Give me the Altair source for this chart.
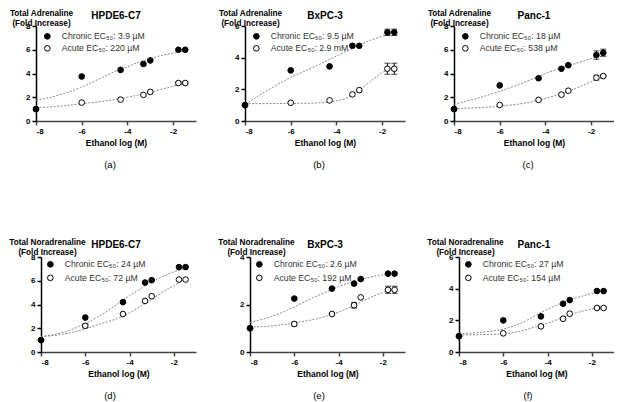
import altair as alt
import pandas as pd

FONT = "Liberation Sans"

# ethanol concentrations (log M) of the measured points
x_conc = [-8, -6, -4.3, -3.3, -3, -1.77, -1.47]
x_fit = [-8, -7, -6, -5, -4.5, -4, -3.5, -3, -2.5, -2, -1.47]

cells = ["HPDE6-C7", "BxPC-3", "Panc-1", "HPDE6-C7", "BxPC-3", "Panc-1"]
measures = ["Total Adrenaline"] * 3 + ["Total Noradrenaline"] * 3
sublabels = ["(a)", "(b)", "(c)", "(d)", "(e)", "(f)"]
ymax = [8, 6, 8, 8, 4, 6]
ec_chronic = ["3.9 µM", "9.5 µM", "18 µM", "24 µM", "2.6 µM", "27 µM"]
ec_acute = ["220 µM", "2.9 mM", "538 µM", "72 µM", "192 µM", "154 µM"]

# (a) HPDE6-C7 adrenaline
a_chronic = [1.0, 3.75, 4.3, 4.8, 5.1, 6.0, 6.0]
a_acute = [1.0, 1.55, 1.8, 2.2, 2.45, 3.2, 3.2]
a_chronic_sem = [0, 0, 0, 0, 0, 0, 0]
a_acute_sem = [0, 0, 0, 0, 0, 0.1, 0.1]
a_chronic_fit = [1.74, 2.18, 2.85, 3.76, 4.2, 4.56, 4.95, 5.25, 5.52, 5.72, 5.9]
a_acute_fit = [1.13, 1.24, 1.46, 1.68, 1.83, 2.0, 2.2, 2.43, 2.68, 2.93, 3.22]

# (b) BxPC-3 adrenaline
b_chronic = [1.0, 3.2, 3.45, 4.75, 4.75, 5.6, 5.6]
b_acute = [1.0, 1.15, 1.3, 1.68, 1.95, 3.3, 3.3]
b_chronic_sem = [0, 0, 0, 0, 0, 0.2, 0.2]
b_acute_sem = [0, 0, 0, 0, 0, 0.35, 0.35]
b_chronic_fit = [1.05, 1.95, 2.75, 3.4, 3.75, 4.1, 4.45, 4.78, 5.1, 5.35, 5.55]
b_acute_fit = [1.1, 1.1, 1.11, 1.13, 1.17, 1.27, 1.48, 1.95, 2.52, 3.05, 3.38]

# (c) Panc-1 adrenaline
c_chronic = [1.0, 3.0, 3.6, 4.4, 4.7, 5.55, 5.75]
c_acute = [1.0, 1.35, 1.78, 2.22, 2.55, 3.65, 3.78]
c_chronic_sem = [0, 0, 0, 0, 0, 0.35, 0.3]
c_acute_sem = [0, 0, 0, 0, 0, 0.2, 0.08]
c_chronic_fit = [1.42, 1.9, 2.5, 3.2, 3.6, 4.0, 4.35, 4.65, 4.95, 5.25, 5.5]
c_acute_fit = [1.05, 1.12, 1.25, 1.48, 1.66, 1.9, 2.18, 2.5, 2.9, 3.3, 3.68]

# (d) HPDE6-C7 noradrenaline
d_chronic = [1.0, 2.9, 4.2, 5.85, 6.05, 7.15, 7.15]
d_acute = [1.0, 2.2, 3.2, 4.3, 4.7, 6.1, 6.1]
d_chronic_sem = [0, 0, 0, 0, 0, 0, 0]
d_acute_sem = [0, 0.15, 0, 0, 0, 0, 0]
d_chronic_fit = [1.3, 1.65, 2.4, 3.45, 4.1, 4.75, 5.35, 5.9, 6.35, 6.75, 7.05]
d_acute_fit = [1.3, 1.5, 1.95, 2.55, 2.85, 3.3, 3.85, 4.45, 5.05, 5.6, 6.15]

# (e) BxPC-3 noradrenaline
e_chronic = [1.0, 2.25, 2.67, 2.88, 3.07, 3.3, 3.3]
e_acute = [1.0, 1.18, 1.6, 1.97, 2.3, 2.62, 2.62]
e_chronic_sem = [0, 0, 0, 0, 0, 0, 0]
e_acute_sem = [0, 0.08, 0, 0.12, 0, 0.15, 0.15]
e_chronic_fit = [1.25, 1.5, 1.9, 2.35, 2.55, 2.75, 2.92, 3.05, 3.17, 3.25, 3.3]
e_acute_fit = [1.05, 1.1, 1.22, 1.4, 1.52, 1.68, 1.88, 2.1, 2.32, 2.5, 2.65]

# (f) Panc-1 noradrenaline
f_chronic = [1.0, 2.0, 2.25, 3.05, 3.28, 3.85, 3.85]
f_acute = [1.0, 1.18, 1.62, 2.1, 2.42, 2.78, 2.78]
f_chronic_sem = [0, 0, 0, 0, 0, 0, 0]
f_acute_sem = [0, 0, 0, 0, 0, 0.08, 0.08]
f_chronic_fit = [1.15, 1.25, 1.45, 1.95, 2.35, 2.7, 3.0, 3.3, 3.5, 3.7, 3.85]
f_acute_fit = [1.07, 1.1, 1.15, 1.4, 1.6, 1.82, 2.08, 2.35, 2.55, 2.72, 2.87]

chronic_all = [a_chronic, b_chronic, c_chronic, d_chronic, e_chronic, f_chronic]
acute_all = [a_acute, b_acute, c_acute, d_acute, e_acute, f_acute]
chronic_sem_all = [a_chronic_sem, b_chronic_sem, c_chronic_sem, d_chronic_sem, e_chronic_sem, f_chronic_sem]
acute_sem_all = [a_acute_sem, b_acute_sem, c_acute_sem, d_acute_sem, e_acute_sem, f_acute_sem]
chronic_fit_all = [a_chronic_fit, b_chronic_fit, c_chronic_fit, d_chronic_fit, e_chronic_fit, f_chronic_fit]
acute_fit_all = [a_acute_fit, b_acute_fit, c_acute_fit, d_acute_fit, e_acute_fit, f_acute_fit]

W = 160
H = 95


def make_panel(i):
    top = i < 3
    rows = []
    for s, vals, sems in (("Acute", acute_all[i], acute_sem_all[i]),
                          ("Chronic", chronic_all[i], chronic_sem_all[i])):
        for x, y, e in zip(x_conc, vals, sems):
            rows.append({"x": x, "y": y, "series": s, "sem": e, "lo": y - e, "hi": y + e})
    pts = pd.DataFrame(rows)
    err = pts[pts["sem"] > 0]
    fit_rows = []
    for s, vals in (("Chronic", chronic_fit_all[i]), ("Acute", acute_fit_all[i])):
        for x, y in zip(x_fit, vals):
            fit_rows.append({"x": x, "y": y, "series": s})
    fit = pd.DataFrame(fit_rows)

    xr = [0, W] if top else [5, W]
    yoff = 0 if top else -5
    xscale = alt.Scale(domain=[-8, -1], range=xr, nice=False, zero=False)
    yscale = alt.Scale(domain=[0, ymax[i]], nice=False, zero=True)

    xaxis = alt.Axis(values=[-8, -6, -4, -2], labelExpr="datum.value + ''",
                     title="Ethanol log (M)", titleFont=FONT, titleFontSize=8.5,
                     titleFontWeight="bold", titleColor="black", titlePadding=3,
                     labelFont=FONT, labelFontSize=8, labelFontWeight="bold",
                     labelColor="black", labelPadding=2, labelOverlap=False,
                     domainColor="#444", domainWidth=1.5, tickColor="#444",
                     tickWidth=1.5, tickSize=4, grid=False)
    yaxis = alt.Axis(values=list(range(0, ymax[i] + 1, 2)),
                     title=[measures[i], "(Fold Increase)"], titleAngle=0,
                     titleAlign="center", titleBaseline="middle",
                     titleX=5 if top else 6, titleY=-12.5 if top else -14.5,
                     titleFont=FONT, titleFontSize=8.2, titleFontWeight="bold",
                     titleLineHeight=9.5, titleColor="black",
                     labelFont=FONT, labelFontSize=8, labelFontWeight="bold",
                     labelColor="black", labelPadding=2, labelOverlap=False,
                     labelFlush=False, domainColor="black",
                     domainWidth=1.5, tickColor="black", tickWidth=1.5, tickSize=4,
                     grid=False, offset=yoff)

    X = alt.X("x:Q", scale=xscale, axis=xaxis)
    Y = alt.Y("y:Q", scale=yscale, axis=yaxis)
    Ylo = alt.Y("lo:Q", scale=yscale, axis=yaxis)
    Yhi = alt.Y("hi:Q", scale=yscale, axis=yaxis)

    lines = alt.Chart(fit).mark_line(color="#888", strokeWidth=1, strokeDash=[2, 1.5],
                                     interpolate="monotone").encode(
        x=X, y=Y, detail="series:N")

    rule = alt.Chart(err).mark_rule(color="black", strokeWidth=1).encode(
        x=X, y=Ylo, y2="hi:Q")
    cap_lo = alt.Chart(err).mark_tick(color="black", thickness=1, size=6,
                                      orient="horizontal").encode(x=X, y=Ylo)
    cap_hi = alt.Chart(err).mark_tick(color="black", thickness=1, size=6,
                                      orient="horizontal").encode(x=X, y=Yhi)

    label_expr = ("datum.value == 'Chronic' ? 'Chronic EC₅₀: %s' : 'Acute EC₅₀: %s'"
                  % (ec_chronic[i], ec_acute[i]))
    points = alt.Chart(pts).mark_point(shape="circle", size=32, stroke="black",
                                       strokeWidth=1, opacity=1, fillOpacity=1).encode(
        x=X, y=Y,
        fill=alt.Fill("series:N",
                      scale=alt.Scale(domain=["Chronic", "Acute"], range=["black", "white"]),
                      legend=alt.Legend(title=None, orient="none",
                                        legendX=7 if top else 10,
                                        legendY=6 if top else 3,
                                        labelExpr=label_expr, symbolType="circle",
                                        symbolSize=32, symbolStrokeColor="black",
                                        symbolStrokeWidth=1, labelFont=FONT,
                                        labelFontSize=8.7, labelColor="#333",
                                        rowPadding=1 if top else 2.5,
                                        labelOffset=10, padding=0)))

    sub = alt.Chart(pd.DataFrame({"label": [sublabels[i]]})).mark_text(
        font=FONT, fontSize=9.5, color="black", baseline="middle").encode(
        x=alt.value(74), y=alt.value(H + 44), text="label:N")

    return alt.layer(lines, rule, cap_lo, cap_hi, points, sub).properties(
        width=W, height=H,
        title=alt.Title(cells[i], font=FONT, fontSize=10, fontWeight="bold",
                        anchor="middle", frame="group", offset=-12, color="black"))


panels = [make_panel(i) for i in range(6)]

chart = alt.concat(*panels, columns=3, bounds="flush",
                   spacing=alt.RowColnumber(row=136, column=49)).resolve_scale(
    fill="independent").resolve_legend(fill="independent").properties(
    padding=0, background="white").configure_view(stroke=None)

chart.save("out.html", embed_options={"renderer": "svg", "actions": False})
